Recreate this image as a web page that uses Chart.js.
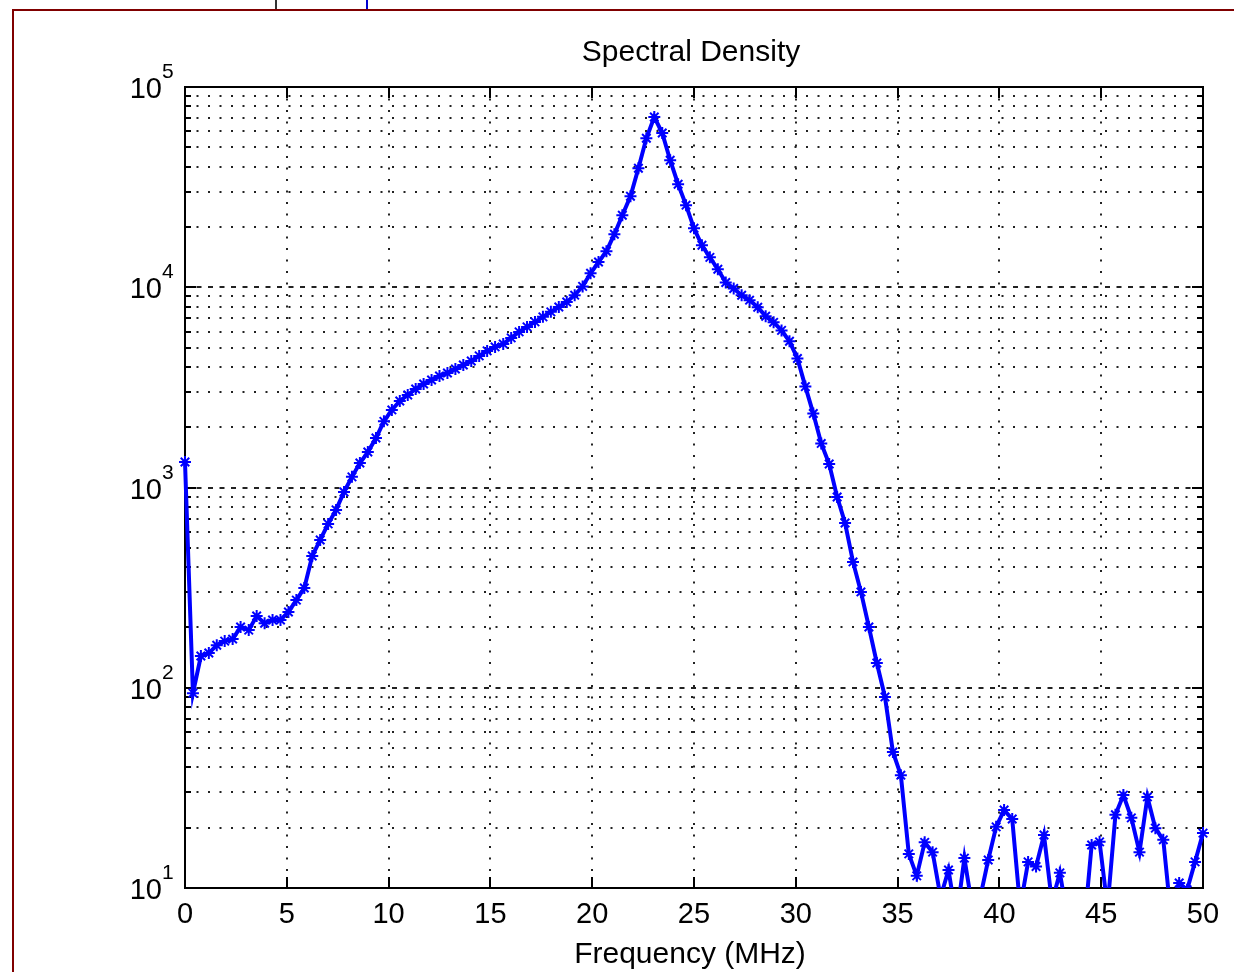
<!DOCTYPE html>
<html>
<head>
<meta charset="utf-8">
<title>Spectral Density</title>
<script src="https://cdn.jsdelivr.net/npm/chart.js@4.4.1/dist/chart.umd.min.js"></script>
<style>
  html, body { margin: 0; padding: 0; background: #fff; }
  #wrap { position: relative; width: 1234px; height: 972px; overflow: hidden; }
  #grafico { position: absolute; left: 0; top: 0; }
  .frame { position: absolute; left: 12px; top: 9px; right: -10px; bottom: -10px;
           border-left: 2px solid #800000; border-top: 2px solid #800000; pointer-events: none; }
  .mark { position: absolute; top: 0; width: 2px; height: 9px; }
</style>
</head>
<body>
<div id="wrap">
  <canvas id="grafico" width="1234" height="972"></canvas>
  <div class="frame"></div>
  <div class="mark" style="left:275px;background:#333"></div>
  <div class="mark" style="left:366px;background:#0000d0"></div>
</div>
<script>
// frequency bins (MHz)
const frequencias = [
  0, 0.39, 0.78, 1.17, 1.56, 1.95, 2.34, 2.73, 3.13, 3.52, 3.91, 4.30, 4.69,
  5.08, 5.47, 5.86, 6.25, 6.64, 7.03, 7.42, 7.81, 8.20, 8.59, 8.98, 9.38, 9.77,
  10.16, 10.55, 10.94, 11.33, 11.72, 12.11, 12.50, 12.89, 13.28, 13.67, 14.06, 14.45, 14.84,
  15.23, 15.63, 16.02, 16.41, 16.80, 17.19, 17.58, 17.97, 18.36, 18.75, 19.14, 19.53, 19.92,
  20.31, 20.70, 21.09, 21.48, 21.88, 22.27, 22.66, 23.05, 23.44, 23.83, 24.22, 24.61,
  25.00, 25.39, 25.78, 26.17, 26.56, 26.95, 27.34, 27.73, 28.13, 28.52, 28.91, 29.30, 29.69,
  30.08, 30.47, 30.86, 31.25, 31.64, 32.03, 32.42, 32.81, 33.20, 33.59, 33.98, 34.38, 34.77,
  35.16, 35.55, 35.94, 36.33, 36.72, 37.11, 37.50, 37.89, 38.28, 38.67, 39.06, 39.45, 39.84,
  40.23, 40.63, 41.02, 41.41, 41.80, 42.19, 42.58, 42.97, 43.36, 43.75, 44.14, 44.53, 44.92,
  45.31, 45.70, 46.09, 46.48, 46.88, 47.27, 47.66, 48.05, 48.44, 48.83, 49.22, 49.61, 50.00
];

// spectral density values
const densidade = [
  1340, 94, 144, 149, 163, 171, 175, 201, 194, 228, 210, 218, 218,
  239, 274, 315, 455, 547, 658, 773, 950, 1130, 1325, 1503, 1766, 2140,
  2440, 2704, 2897, 3105, 3289, 3444, 3606, 3733, 3909, 4093, 4286, 4541, 4810,
  5035, 5212, 5585, 5984, 6339, 6715, 7114, 7536, 7970, 8440, 9130, 10100, 11740,
  13360, 15140, 18400, 22900, 28460, 39260, 55450, 70800, 58900, 43100, 32700, 25700,
  19700, 16200, 14100, 12300, 10570, 9860, 9120, 8620, 7950, 7170, 6680, 6090, 5370,
  4410, 3190, 2340, 1660, 1310, 897, 665, 425, 301, 201, 133, 90, 47.8,
  36.6, 14.8, 11.5, 16.9, 15.1, 9, 12.3, 7, 14.1, 8, 9, 13.8, 20.2,
  24.5, 22.1, 8, 13.5, 12.8, 18.4, 8.5, 11.9, 7, 5, 6, 16.4, 17.0,
  8, 23.2, 29.1, 22.4, 15.1, 28.5, 19.9, 17.4, 7, 10.6, 9.8, 13.5, 18.8
];

const ticksX = [0, 5, 10, 15, 20, 25, 30, 35, 40, 45, 50];
const decadasY = [10, 100, 1000, 10000, 100000];
const expoentesY = [`1`, `2`, `3`, `4`, `5`];
const menoresY = [2, 3, 4, 5, 6, 7, 8, 9];
const titulo = `Spectral Density`;
const rotuloX = `Frequency (MHz)`;

function linha(ctx, x1, y1, x2, y2){
    ctx.beginPath();
    ctx.moveTo(x1, y1);
    ctx.lineTo(x2, y2);
    ctx.stroke();
}

// matlab style grid, box and inward ticks
let eixos = {
    id: `eixos`,
    beforeDatasetsDraw(chart){
        let {ctx, chartArea: a, scales: {x, y}} = chart;
        ctx.save();
        ctx.strokeStyle = `#222`;
        ctx.lineWidth = 2;

        ctx.setLineDash([2, 9.5]);
        ticksX.forEach(v => {
            if (v <= 0 || v >= 50) return;
            let px = Math.round(x.getPixelForValue(v));
            linha(ctx, px, a.top, px, a.bottom);
        });
        decadasY.slice(0, -1).forEach(d => {
            menoresY.forEach(m => {
                let py = Math.round(y.getPixelForValue(d * m));
                linha(ctx, a.left, py, a.right, py);
            });
        });

        ctx.setLineDash([5, 6.5]);
        decadasY.slice(1, -1).forEach(d => {
            let py = Math.round(y.getPixelForValue(d));
            linha(ctx, a.left, py, a.right, py);
        });

        ctx.setLineDash([]);
        ctx.strokeStyle = `#000`;
        ctx.strokeRect(a.left, a.top, a.right - a.left, a.bottom - a.top);

        ticksX.forEach(v => {
            let px = Math.round(x.getPixelForValue(v));
            linha(ctx, px, a.bottom, px, a.bottom - 11);
            linha(ctx, px, a.top, px, a.top + 11);
        });
        decadasY.forEach(d => {
            let py = Math.round(y.getPixelForValue(d));
            linha(ctx, a.left, py, a.left + 11, py);
            linha(ctx, a.right, py, a.right - 11, py);
        });
        decadasY.slice(0, -1).forEach(d => {
            menoresY.forEach(m => {
                let py = Math.round(y.getPixelForValue(d * m));
                linha(ctx, a.left, py, a.left + 6, py);
                linha(ctx, a.right, py, a.right - 6, py);
            });
        });
        ctx.restore();
    },
    afterDraw(chart){
        let {ctx, chartArea: a, scales: {x, y}} = chart;
        ctx.save();
        ctx.fillStyle = `#000`;
        ctx.textBaseline = `alphabetic`;

        ctx.font = `29px "Liberation Sans", Arial, sans-serif`;
        ctx.textAlign = `center`;
        ticksX.forEach(v => {
            ctx.fillText(String(v), x.getPixelForValue(v), a.bottom + 35);
        });

        decadasY.forEach((d, i) => {
            let py = y.getPixelForValue(d);
            ctx.font = `29px "Liberation Sans", Arial, sans-serif`;
            ctx.textAlign = `right`;
            ctx.fillText(`10`, a.left - 23, py + 11);
            ctx.font = `21px "Liberation Sans", Arial, sans-serif`;
            ctx.textAlign = `left`;
            ctx.fillText(expoentesY[i], a.left - 23, py - 9);
        });

        ctx.font = `30px "Liberation Sans", Arial, sans-serif`;
        ctx.textAlign = `center`;
        ctx.fillText(titulo, (a.left + a.right) / 2 - 3, a.top - 26);
        ctx.fillText(rotuloX, (a.left + a.right) / 2 - 4, a.bottom + 75);
        ctx.restore();
    }
};

let config = {
    type: `line`,
    data: {
        datasets: [{
            label: titulo,
            data: frequencias.map((f, i) => ({x: f, y: densidade[i]})),
            borderColor: `#0000ff`,
            backgroundColor: `#0000ff`,
            borderWidth: 4,
            pointStyle: `star`,
            pointRadius: 6,
            pointBorderWidth: 2,
            pointBorderColor: `#0000ff`,
            tension: 0,
            fill: false,
            clip: {left: 10, top: 10, right: 10, bottom: 0}
        }]
    },
    options: {
        responsive: false,
        animation: false,
        devicePixelRatio: 1,
        events: [],
        layout: {padding: {left: 185, top: 87, right: 31, bottom: 84}},
        plugins: {
            legend: {display: false},
            tooltip: {enabled: false},
            title: {display: false}
        },
        scales: {
            x: {type: `linear`, min: 0, max: 50, display: false},
            y: {type: `logarithmic`, min: 10, max: 100000, display: false}
        }
    },
    plugins: [eixos]
};

let grafico = new Chart(document.getElementById(`grafico`), config);
</script>
</body>
</html>
